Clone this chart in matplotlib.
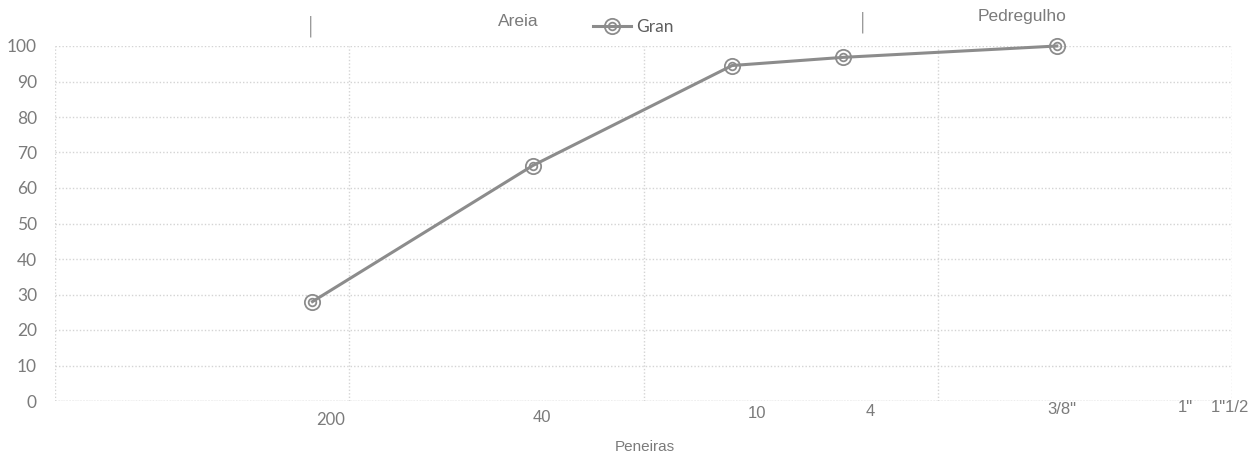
import matplotlib
matplotlib.use("Agg")
import matplotlib.pyplot as plt
import matplotlib.transforms as mtransforms
from matplotlib.path import Path

# Abertura das peneiras (mm) e % passante
aberturas = [0.075, 0.42, 2.0, 4.76, 25.4]
passante = [28.0, 66.3, 94.5, 96.8, 100.0]
serie = "Gran"

peneiras = ["200", "40", "10", "4", "3/8\"", "1\"", "1\"1/2"]
yticks = list(range(0, 101, 10))

cinza_txt = "#7b7b7b"
cinza_linha = "#8c8c8c"
cinza_grid = "#d4d4d4"

W, H = 1259, 455
fig = plt.figure(figsize=(W / 100, H / 100), dpi=100)
ax = fig.add_axes([55 / W, 1 - 401 / H, (1232 - 55) / W, (401 - 46) / H])

# marcador de dois circulos concentricos (estilo Excel)
marcador = Path.make_compound_path(Path.unit_circle(), Path.circle((0, 0), 0.5))

ax.plot(aberturas, passante, color=cinza_linha, lw=2.2, marker=marcador,
        ms=11, mfc="none", mec=cinza_linha, mew=1.3, label=serie, clip_on=False, zorder=3)

ax.set_xscale("log")
ax.set_xlim(0.01, 100)
ax.set_ylim(0, 100)
ax.set_xticks([0.01, 0.1, 1, 10, 100])
ax.set_xticks([], minor=True)
ax.set_xticklabels([])
ax.set_yticks(yticks)
ax.tick_params(axis="both", length=0)
ax.tick_params(axis="y", pad=13, labelsize=12.5, labelcolor=cinza_txt)
for t in ax.get_yticklabels():
    t.set_family(["Lato", "DejaVu Sans"])
ax.grid(True, color=cinza_grid, lw=1, ls=(0, (1, 1.5)))
ax.axhline(0, color="#c2c2c2", lw=1, ls=(0, (1, 1)), zorder=1)
for s in ax.spines.values():
    s.set_visible(False)

# rotulos das peneiras abaixo do eixo
tr = mtransforms.blended_transform_factory(ax.transAxes, fig.transFigure)
pos_x = [331, 542, 757, 870, 1062, 1185, 1230]
pos_y = [420, 417, 413, 411, 410, 408, 408]
for lab, px, py in zip(peneiras, pos_x, pos_y):
    fam = ["Lato"] if lab == "200" else ["Liberation Sans"]
    ax.text((px - 55) / (1232 - 55), 1 - py / H, lab, transform=tr, ha="center",
            va="center", fontsize=12, color=cinza_txt, family=fam)

fig.text(645 / W, 1 - 447 / H, "Peneiras", ha="center", va="center",
         fontsize=11, color=cinza_txt, family="Liberation Sans")

# faixas granulometricas no topo
fig.text(518 / W, 1 - 21 / H, "Areia", ha="center", va="center",
         fontsize=12.5, color=cinza_txt, family="Liberation Sans")
fig.text(1022 / W, 1 - 16 / H, "Pedregulho", ha="center", va="center",
         fontsize=12.5, color=cinza_txt, family="Liberation Sans")
fig.text(310 / W, 1 - 26 / H, "|", ha="center", va="center",
         fontsize=16, color="#7a7a7a", family="DejaVu Sans", fontweight="light")
fig.text(862 / W, 1 - 22 / H, "|", ha="center", va="center",
         fontsize=16, color="#7a7a7a", family="DejaVu Sans", fontweight="light")

leg = ax.legend(loc="center", bbox_to_anchor=(633 / W, 1 - 27 / H),
                bbox_transform=fig.transFigure, frameon=False, handlelength=2.2,
                handletextpad=0.3, prop={"family": "Lato", "size": 12.5})
for t in leg.get_texts():
    t.set_color("#5e5e5e")

fig.savefig("out.png", dpi=100)
